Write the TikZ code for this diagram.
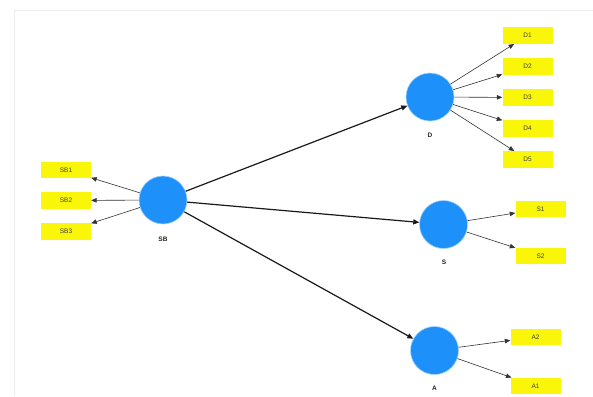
\documentclass[tikz,border=0pt]{standalone}
\usepackage{fontspec}
\setmainfont{Liberation Sans}
\usetikzlibrary{arrows.meta}
\definecolor{lvblue}{RGB}{30,144,250}
\definecolor{indyellow}{RGB}{250,246,10}
\definecolor{framegray}{RGB}{236,236,236}
\begin{document}
\begin{tikzpicture}[x=1pt,y=-1pt,
  latent/.style={circle,fill=lvblue,draw=lvblue!40,line width=0.6pt,minimum size=48pt,inner sep=0pt},
  indic/.style={rectangle,fill=indyellow,minimum width=50pt,minimum height=16.5pt,inner sep=0pt,font=\fontsize{6.5}{7}\selectfont,text=black!75},
  lvlabel/.style={font=\fontsize{6.5}{7}\selectfont\bfseries,text=black!85},
  path/.style={draw=black!90,line width=1.2pt,-{Triangle[length=6pt,width=5pt]}},
  load/.style={draw=black!80,line width=0.6pt,-{Triangle[length=5.5pt,width=4.5pt]}}]
\useasboundingbox (0,0) rectangle (593,396);
\fill[white] (0,0) rectangle (593,396);
\draw[framegray,line width=0.8pt] (14,396) -- (14,10) -- (593,10);
% latent variables
\node[latent] (SB) at (163,200) {};
\node[latent] (D) at (430,97) {};
\node[latent] (S) at (443.5,224.5) {};
\node[latent] (A) at (434.5,350.5) {};
\node[lvlabel] (SBl) at (163,239) {SB};
\node[lvlabel] (Dl) at (430,135) {D};
\node[lvlabel] (Sl) at (444,262) {S};
\node[lvlabel] (Al) at (434.5,388) {A};
% indicators
\node[indic] (SB1) at (66,170) {SB1};
\node[indic] (SB2) at (66,200.5) {SB2};
\node[indic] (SB3) at (66,231.5) {SB3};
\node[indic] (D1) at (527.5,35.5) {D1};
\node[indic] (D2) at (527.5,66.5) {D2};
\node[indic] (D3) at (527.5,97.5) {D3};
\node[indic] (D4) at (527.5,128.5) {D4};
\node[indic] (D5) at (527.5,159.5) {D5};
\node[indic] (S1) at (540.5,209) {S1};
\node[indic] (S2) at (540.5,256) {S2};
\node[indic] (A2) at (535.5,337) {A2};
\node[indic] (A1) at (535.5,386) {A1};
% structural paths
\draw[path] (SB) -- (D);
\draw[path] (SB) -- (S);
\draw[path] (SB) -- (A);
% loadings
\draw[load] (SB) -- (SB1);
\draw[load] (SB) -- (SB2);
\draw[load] (SB) -- (SB3);
\foreach \i in {1,...,5} {\draw[load] (D) -- (D\i);}
\draw[load] (S) -- (S1);
\draw[load] (S) -- (S2);
\draw[load] (A) -- (A2);
\draw[load] (A) -- (A1);
\end{tikzpicture}
\end{document}
